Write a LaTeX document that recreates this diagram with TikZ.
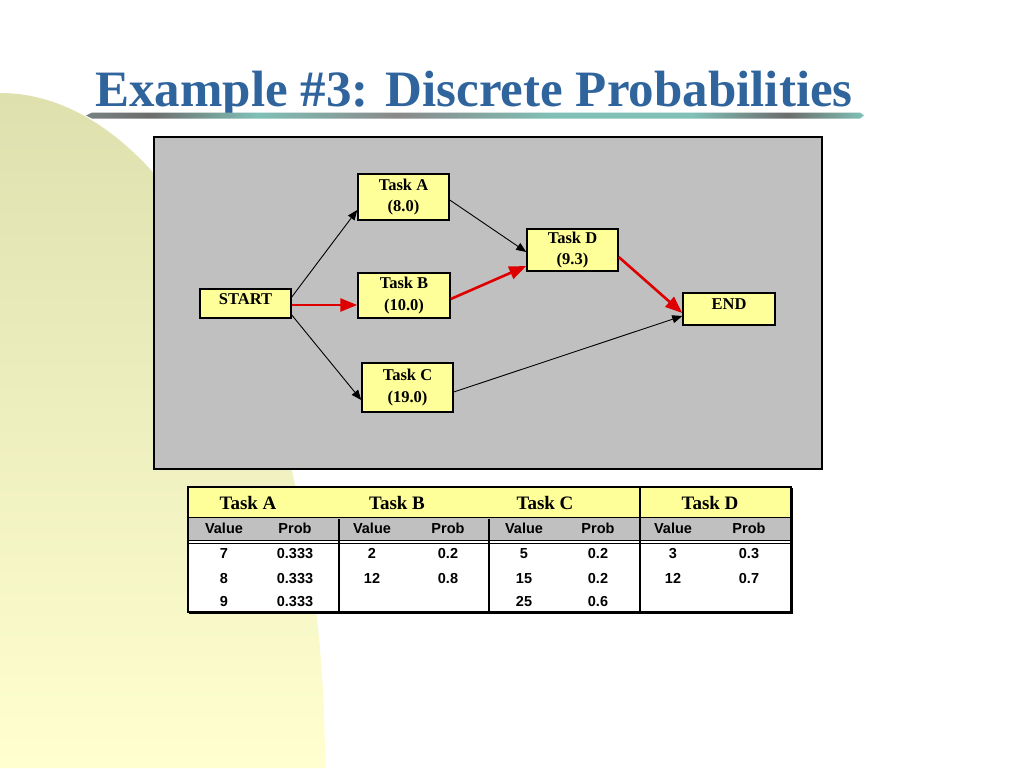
\documentclass[tikz,border=0pt]{standalone}
\usepackage{fontspec}
\setmainfont{Liberation Serif}
\setsansfont{Liberation Sans}
\usetikzlibrary{arrows.meta}
\definecolor{titleblue}{RGB}{48,100,156}
\definecolor{boxyellow}{RGB}{255,255,153}
\definecolor{panelgray}{RGB}{192,192,192}
\definecolor{pathred}{RGB}{222,0,0}
\definecolor{bgtop}{RGB}{222,224,174}
\definecolor{bgbot}{RGB}{255,255,208}
\definecolor{barteal}{RGB}{128,192,182}
\definecolor{bargray}{RGB}{108,108,108}
\definecolor{barmid}{RGB}{120,130,130}
\pgfdeclarehorizontalshading{titlebar}{100bp}{color(0bp)=(barmid); color(25bp)=(barmid); color(29bp)=(bargray); color(36bp)=(barteal); color(45bp)=(bargray!80); color(55bp)=(barteal); color(64bp)=(barteal); color(70bp)=(bargray); color(75bp)=(barteal); color(100bp)=(barteal)}
\begin{document}
\begin{tikzpicture}[x=1pt,y=-1pt,
  task/.style={draw=black, line width=1.5pt, fill=boxyellow, inner sep=0pt, align=center,
    font=\fontsize{16.5}{21.5}\selectfont\bfseries},
  blk/.style={-{Triangle[length=10pt,width=8pt]}, line width=0.9pt, draw=black},
  crit/.style={-{Triangle[length=17pt,width=13pt]}, line width=2.6pt, draw=pathred},
  hdr/.style={font=\fontsize{19}{19}\selectfont\bfseries, anchor=base, inner sep=0pt},
  cell/.style={font=\sffamily\fontsize{14.5}{14.5}\selectfont\bfseries, anchor=base, inner sep=0pt},
  rule/.style={line width=1.2pt, draw=black}
]
\useasboundingbox (0,0) rectangle (1024,768);
\fill[white] (0,0) rectangle (1024,768);
% background shape
\shade[top color=bgtop, bottom color=bgbot] (0,93) arc[start angle=-90, end angle=0, x radius=325, y radius=675] -- (0,768) -- cycle;
% title
\node[anchor=base, text=titleblue, inner sep=0pt, font=\fontsize{51}{51}\selectfont\bfseries] (title) at (474,106) {Example \#3: Discrete Probabilities};
\shade[shading=titlebar] (86,115.5) -- (92,112.5) -- (860,112.5) -- (864,115.5) -- (860,118.5) -- (92,118.5) -- cycle;
% panel
\draw[line width=2pt, fill=panelgray] (154,137) rectangle (822,469);
% nodes
\node[task, minimum width=91pt, minimum height=46pt] (a) at (403.5,197) {Task A\\(8.0)};
\node[task, minimum width=92pt, minimum height=45pt] (b) at (404,295.5) {Task B\\(10.0)};
\node[task, minimum width=91pt, minimum height=49pt] (c) at (407.5,387.5) {Task C\\(19.0)};
\node[task, minimum width=91pt, minimum height=42pt] (d) at (572.5,250) {Task D\\(9.3)};
\node[task, minimum width=91pt, minimum height=29pt, text depth=8pt] (start) at (245.5,303.5) {START};
\node[task, minimum width=92pt, minimum height=32pt, text depth=9pt] (end) at (729,309) {END};
% connectors
\draw[blk] ([yshift=6.5pt]start.east) -- ([yshift=-13pt]a.west);
\draw[crit] ([yshift=-1.5pt]start.east) -- ([yshift=-9.5pt]b.west);
\draw[blk] ([yshift=-11.5pt]start.east) -- ([yshift=-12.5pt]c.west);
\draw[blk] ([yshift=-3pt]a.east) -- ([yshift=-2pt]d.west);
\draw[crit] ([yshift=-3.5pt]b.east) -- ([yshift=-16pt]d.west);
\draw[crit] ([yshift=-7pt]d.east) -- ([yshift=-4pt]end.west);
\draw[blk] ([yshift=-4.5pt]c.east) -- ([yshift=-7pt]end.west);
% table
\fill[white] (188,487) rectangle (791,612);
\fill[boxyellow] (188,487) rectangle (791,517);
\fill[panelgray] (188,517) rectangle (791,540);
\draw[line width=1pt] (188,517) -- (791,517);
\draw[line width=1pt] (188,540) -- (791,540);
\draw[line width=1pt] (188,543) -- (791,543);
\draw[rule] (339,519) -- (339,612);
\draw[rule] (489,519) -- (489,612);
\draw[rule] (640,487) -- (640,612);
\draw[line width=2pt] (188,487) rectangle (791,612);
\draw[line width=1.5pt] (189,613.5) -- (792.5,613.5) -- (792.5,488);
\node[hdr] (ha) at (248,509.5) {Task A};
\node[hdr] (hb) at (397,509.5) {Task B};
\node[hdr] (hc) at (545,509.5) {Task C};
\node[hdr] (hd) at (710,509.5) {Task D};
\foreach \v/\p [count=\i] in {224/295,372/448,524/598,673/749}{
  \node[cell] (val\i) at (\v,533.5) {Value};
  \node[cell] (prob\i) at (\p,533.5) {Prob};
}
\node[cell] (a1v) at (224,558.5) {7};  \node[cell] (a1p) at (295,558.5) {0.333};
\node[cell] (a2v) at (224,583) {8};    \node[cell] (a2p) at (295,583) {0.333};
\node[cell] (a3v) at (224,606) {9};    \node[cell] (a3p) at (295,606) {0.333};
\node[cell] (b1v) at (372,558.5) {2};  \node[cell] (b1p) at (448,558.5) {0.2};
\node[cell] (b2v) at (372,583) {12};   \node[cell] (b2p) at (448,583) {0.8};
\node[cell] (c1v) at (524,558.5) {5};  \node[cell] (c1p) at (598,558.5) {0.2};
\node[cell] (c2v) at (524,583) {15};   \node[cell] (c2p) at (598,583) {0.2};
\node[cell] (c3v) at (524,606) {25};   \node[cell] (c3p) at (598,606) {0.6};
\node[cell] (d1v) at (673,558.5) {3};  \node[cell] (d1p) at (749,558.5) {0.3};
\node[cell] (d2v) at (673,583) {12};   \node[cell] (d2p) at (749,583) {0.7};
\end{tikzpicture}
\end{document}
